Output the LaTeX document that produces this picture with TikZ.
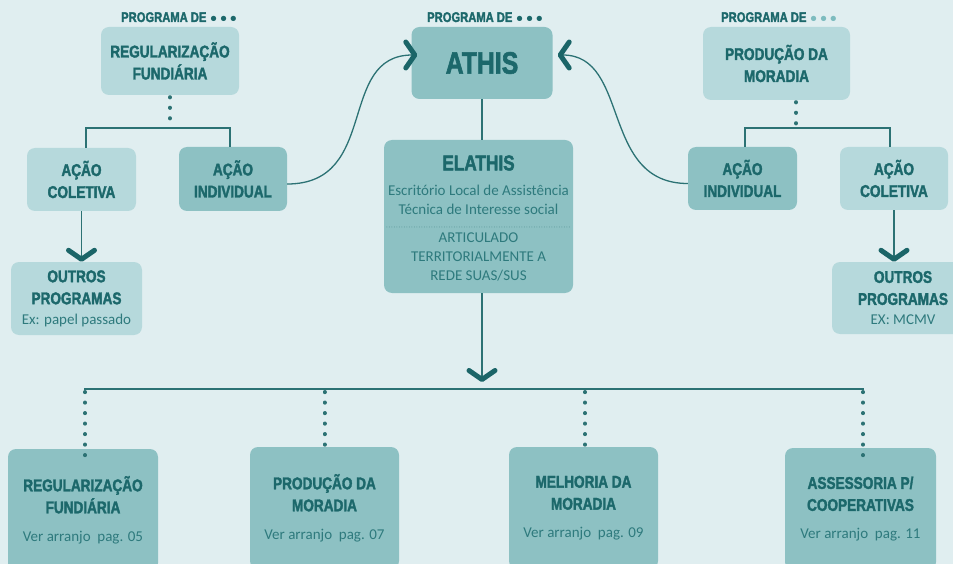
\documentclass[tikz,border=0pt]{standalone}
\usepackage{fontspec}
\setmainfont{Carlito}
\newfontfamily\condf[FakeStretch=0.8,BoldFeatures={FakeBold=2}]{Liberation Sans}
\newfontfamily\dotf{DejaVu Sans}
\usetikzlibrary{arrows.meta}
\definecolor{bgc}{HTML}{E0EEF0}
\definecolor{lightbox}{HTML}{B6D9DC}
\definecolor{darkbox}{HTML}{8DC1C3}
\definecolor{titc}{HTML}{1C686B}
\definecolor{bodyc}{HTML}{2E7A7D}
\definecolor{linec}{HTML}{2C7274}
\definecolor{chevc}{HTML}{1B6568}
\definecolor{dotlight}{HTML}{7DBCBF}
\newcommand{\subtx}[1]{{\normalfont\fontsize{15}{19}\selectfont\color{bodyc}#1}}
\newcommand{\progdots}[1]{\hspace{2.5pt}{\color{#1}\dotf\fontsize{15}{13}\selectfont\raisebox{-2.2pt}{•\hspace{0.3pt}•\hspace{0.3pt}•}}}
\begin{document}
\begin{tikzpicture}[x=1pt,y=-1pt,
  box/.style={rounded corners=8pt, inner sep=0pt, align=center, text=titc, font=\condf\bfseries\fontsize{17}{22}\selectfont},
  lbox/.style={box, fill=lightbox},
  dbox/.style={box, fill=darkbox},
  prog/.style={anchor=base west, inner sep=0pt, text=titc, font=\condf\bfseries\fontsize{14}{14}\selectfont},
  body/.style={inner sep=0pt, align=center, text=bodyc, font=\fontsize{15}{19}\selectfont},
  conn/.style={draw=linec, line width=1.3pt},
  treeline/.style={draw=linec, line width=1.5pt},
  busline/.style={draw=linec, line width=2pt},
  dotv/.style={draw=linec, line width=4pt, line cap=round, dash pattern=on 0.2pt off 10.3pt},
  sepdots/.style={draw=bodyc!80, line width=1pt, line cap=round, dash pattern=on 0pt off 2.5pt},
  chev/.tip={Straight Barb[length=9pt,width=26pt,line width=5pt,round,color=chevc]}
]
\fill[bgc] (0,0) rectangle (953,564);
\clip (0,0) rectangle (953,564);

% labels
\node[prog] (progL) at (121,22) {PROGRAMA DE\progdots{titc}};
\node[prog] (progC) at (427,22) {PROGRAMA DE\progdots{titc}};
\node[prog] (progR) at (721,22) {PROGRAMA DE\progdots{dotlight}};

% top row
\node[lbox, minimum width=138pt, minimum height=68pt] (regtop) at (170,61) {REGULARIZAÇÃO\\FUNDIÁRIA};
\node[dbox, minimum width=141pt, minimum height=72pt, font=\condf\bfseries\fontsize{31}{31}\selectfont] (athis) at (482,63) {ATHIS};
\node[lbox, minimum width=147pt, minimum height=73pt] (prodtop) at (776.5,63.5) {PRODUÇÃO DA\\MORADIA};

% action boxes
\node[lbox, minimum width=109pt, minimum height=63pt] (colL) at (81.5,179.5) {AÇÃO\\COLETIVA};
\node[dbox, minimum width=108pt, minimum height=64pt] (indL) at (233,179) {AÇÃO\\INDIVIDUAL};
\node[dbox, minimum width=109pt, minimum height=63pt] (indR) at (742.5,178.5) {AÇÃO\\INDIVIDUAL};
\node[lbox, minimum width=108pt, minimum height=63pt] (colR) at (894,178.5) {AÇÃO\\COLETIVA};

% outros programas
\node[lbox, minimum width=131pt, minimum height=73pt] (outL) at (76.5,298.5) {OUTROS\\PROGRAMAS\\[-2pt]\subtx{Ex: papel passado}};
\node[lbox, minimum width=142pt, minimum height=72pt] (outR) at (903,298) {OUTROS\\PROGRAMAS\\[-2pt]\subtx{EX: MCMV}};

% ELATHIS
\node[dbox, minimum width=189pt, minimum height=153pt] (elathis) at (478.5,216.5) {};
\node[inner sep=0pt, text=titc, font=\condf\bfseries\fontsize{21.5}{22}\selectfont] (elT) at (478.5,163) {ELATHIS};
\node[body] (elD) at (478.5,199.5) {Escritório Local de Assistência\\Técnica de Interesse social};
\draw[sepdots] (elathis.west) ++(3,10.5) -- ++(183,0);
\node[body] (elA) at (478.5,256.5) {ARTICULADO\\TERRITORIALMENTE A\\REDE SUAS/SUS};

% bottom boxes
\node[dbox, minimum width=150pt, minimum height=122pt] (b1) at (83,510) {REGULARIZAÇÃO\\FUNDIÁRIA\\[6pt]\subtx{Ver arranjo\ \ pag. 05}};
\node[dbox, minimum width=149pt, minimum height=122pt] (b2) at (324.5,508) {PRODUÇÃO DA\\MORADIA\\[6pt]\subtx{Ver arranjo\ \ pag. 07}};
\node[dbox, minimum width=149pt, minimum height=122pt] (b3) at (583.5,508) {MELHORIA DA\\MORADIA\\[6pt]\subtx{Ver arranjo\ \ pag. 09}};
\node[dbox, minimum width=151pt, minimum height=122pt] (b4) at (860.5,509) {ASSESSORIA P/\\COOPERATIVAS\\[6pt]\subtx{Ver arranjo\ \ pag. 11}};

% top-left tree
\coordinate (lj) at (170,128);
\draw[dotv] ([yshift=-2pt]regtop.south) -- (lj);
\draw[treeline] ([xshift=4.5pt]colL.north) |- (lj) -| ([xshift=-3pt]indL.north);
\draw[conn, -{chev}] (colL.south) -- (colL.south |- outL.north);

% top-right tree
\coordinate (rj) at (796,128);
\draw[dotv] ([yshift=-2pt]rj |- prodtop.south) -- (rj);
\draw[treeline] ([xshift=2.5pt]indR.north) |- (rj) -| ([xshift=-4pt]colR.north);
\draw[conn, -{chev}] (colR.south) -- (colR.south |- outR.north);

% curves to ATHIS
\draw[conn, -{chev}] ([yshift=-5pt]indL.east) .. controls +(93,0) and +(-81,0) .. ([xshift=6pt,yshift=8pt]athis.west);
\draw[conn, -{chev}] ([yshift=-5pt]indR.west) .. controls +(-88,0) and +(73,0) .. ([xshift=5pt,yshift=8pt]athis.east);

% ATHIS - ELATHIS
\draw[conn] (athis.south) -- (athis.south |- elathis.north);
\coordinate (bj) at (482,382);
\draw[conn, -{chev}] (athis.south |- elathis.south) -- (bj);

% bottom bus
\coordinate (hl) at (84,389);
\coordinate (hr) at (864,389);
\draw[busline] (hl) -- (hr);
\draw[dotv] ([xshift=2pt]b1.north |- 0,392) -- ([xshift=2pt,yshift=-8pt]b1.north);
\draw[dotv] (b2.north |- 0,392) -- ([yshift=-8pt]b2.north);
\draw[dotv] ([xshift=1.5pt]b3.north |- 0,392) -- ([xshift=1.5pt,yshift=-8pt]b3.north);
\draw[dotv] ([xshift=2.5pt]b4.north |- 0,392) -- ([xshift=2.5pt,yshift=-8pt]b4.north);
\end{tikzpicture}
\end{document}
